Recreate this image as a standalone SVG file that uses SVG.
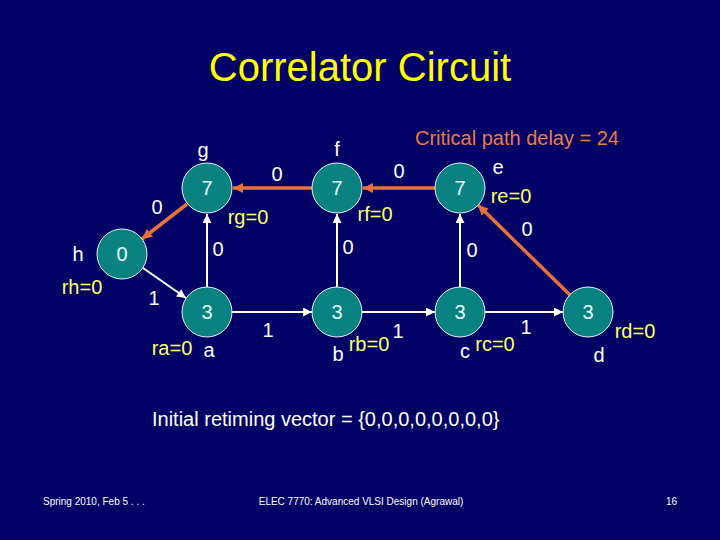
<svg xmlns="http://www.w3.org/2000/svg" width="720" height="540" viewBox="0 0 720 540">
<defs>
<style>
text{font-family:"Liberation Sans",Arial,sans-serif}
.node{fill:#0A8282;stroke:#E8F4F4;stroke-width:1}
.num{fill:#E6FAFA;font-size:20px;text-anchor:middle}
.lab{fill:#FFFFFF;font-size:20px;text-anchor:middle}
.r{fill:#FFFF66;font-size:20px;text-anchor:middle}
.w{fill:#FFFFFF;font-size:20px;text-anchor:middle}
.ew{stroke:#FFFFFF;stroke-width:2;fill:none;marker-end:url(#aw)}
.eo{stroke:#E8703A;stroke-width:3.5;fill:none;marker-end:url(#ao)}
.foot{fill:#FFFFFF;font-size:10px}
</style>
<marker id="aw" viewBox="0 0 10 10" refX="10" refY="5" markerWidth="10" markerHeight="9" markerUnits="userSpaceOnUse" orient="auto"><path d="M0,0L10,5L0,10z" fill="#FFFFFF"/></marker>
<marker id="ao" viewBox="0 0 10 10" refX="10" refY="5" markerWidth="12" markerHeight="10" markerUnits="userSpaceOnUse" orient="auto"><path d="M0,0L10,5L0,10z" fill="#E8703A"/></marker>
</defs>
<rect width="720" height="540" fill="#010166"/>
<text x="360" y="81" fill="#FFFF00" font-size="40" text-anchor="middle">Correlator Circuit</text>
<text x="517" y="145" fill="#EE7A45" font-size="20" text-anchor="middle">Critical path delay = 24</text>
<g id="connectors">
<line class="eo" x1="312" y1="188" x2="233" y2="188"/>
<line class="eo" x1="435" y1="188" x2="363" y2="188"/>
<line class="eo" x1="570" y1="295" x2="478" y2="205"/>
<line class="eo" x1="187" y1="204" x2="142" y2="239"/>
<line class="ew" x1="143" y1="268" x2="186" y2="298"/>
<line class="ew" x1="207" y1="287" x2="207" y2="214"/>
<line class="ew" x1="232" y1="312" x2="312" y2="312"/>
<line class="ew" x1="337" y1="287" x2="337" y2="214"/>
<line class="ew" x1="362" y1="312" x2="435" y2="312"/>
<line class="ew" x1="460" y1="287" x2="460" y2="214"/>
<line class="ew" x1="485" y1="312" x2="563" y2="312"/>
<text class="w" x="277" y="181">0</text>
<text class="w" x="399" y="178">0</text>
<text class="w" x="527" y="236">0</text>
<text class="w" x="157" y="214">0</text>
<text class="w" x="218" y="256">0</text>
<text class="w" x="348" y="254">0</text>
<text class="w" x="472" y="257">0</text>
<text class="w" x="154" y="305">1</text>
<text class="w" x="268" y="337">1</text>
<text class="w" x="398" y="338">1</text>
<text class="w" x="526" y="334">1</text>
</g>
<g id="node-g"><circle class="node" cx="207" cy="188" r="25"/><text class="num" x="207" y="195">7</text><text class="lab" x="203" y="157">g</text><text class="r" x="248" y="224">rg=0</text></g>
<g id="node-f"><circle class="node" cx="337" cy="188" r="25"/><text class="num" x="337" y="195">7</text><text class="lab" x="337" y="156">f</text><text class="r" x="375" y="221">rf=0</text></g>
<g id="node-e"><circle class="node" cx="460" cy="188" r="25"/><text class="num" x="460" y="195">7</text><text class="lab" x="498" y="174">e</text><text class="r" x="511" y="203">re=0</text></g>
<g id="node-h"><circle class="node" cx="122" cy="254" r="25"/><text class="num" x="122" y="261">0</text><text class="lab" x="78" y="261">h</text><text class="r" x="82" y="294">rh=0</text></g>
<g id="node-a"><circle class="node" cx="207" cy="312" r="25"/><text class="num" x="207" y="319">3</text><text class="lab" x="209" y="357">a</text><text class="r" x="172" y="355">ra=0</text></g>
<g id="node-b"><circle class="node" cx="337" cy="312" r="25"/><text class="num" x="337" y="319">3</text><text class="lab" x="338" y="361">b</text><text class="r" x="369" y="351">rb=0</text></g>
<g id="node-c"><circle class="node" cx="460" cy="312" r="25"/><text class="num" x="460" y="319">3</text><text class="lab" x="465" y="358">c</text><text class="r" x="495" y="351">rc=0</text></g>
<g id="node-d"><circle class="node" cx="588" cy="312" r="25"/><text class="num" x="588" y="319">3</text><text class="lab" x="599" y="362">d</text><text class="r" x="635" y="338">rd=0</text></g>
<text x="152" y="426" fill="#FFFFFF" font-size="20">Initial retiming vector = {0,0,0,0,0,0,0,0}</text>
<text class="foot" x="43" y="505">Spring 2010, Feb 5 . . .</text>
<text class="foot" x="361" y="505" text-anchor="middle">ELEC 7770: Advanced VLSI Design (Agrawal)</text>
<text class="foot" x="677" y="505" text-anchor="end">16</text>
</svg>
